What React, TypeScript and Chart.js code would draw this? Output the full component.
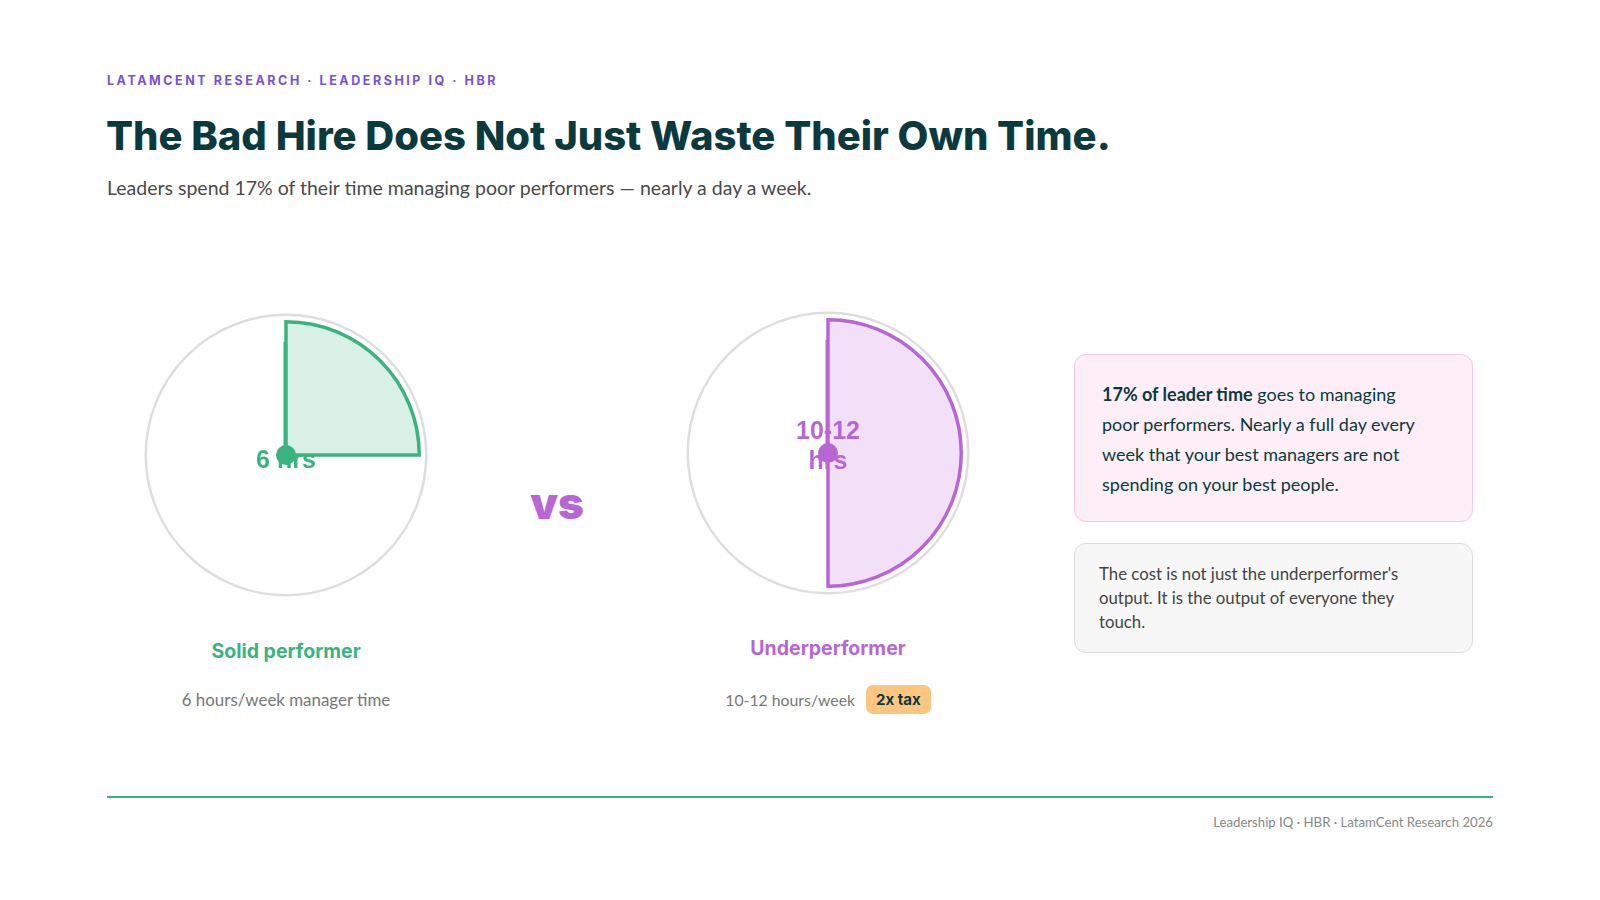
import React, { useEffect, useRef } from "react";
import { Chart, registerables } from "chart.js";

Chart.register(...registerables);

// ---- data ----
const dialHours = 24; // one full turn of the dial
const performerLabels = ["Solid performer", "Underperformer"];
const managerHours = [6, 12];
const centerLabels = [["6 hrs"], ["10-12", "hrs"]];
const detailLabels = ["6 hours/week manager time", "10-12 hours/week"];
const badgeLabels = ["", "2x tax"];
const seriesColors = ["#3bb37f", "#b866d6"];
const seriesFills = ["rgba(59,179,127,0.2)", "rgba(184,102,214,0.2)"];

const dialPlugin = {
  id: "dial",
  beforeDatasetsDraw(chart: any, _a: any, opts: any) {
    const arc: any = chart.getDatasetMeta(0).data[0];
    if (!arc) return;
    const ctx = chart.ctx;
    ctx.save();
    ctx.beginPath();
    ctx.arc(arc.x, arc.y, arc.outerRadius + 7, 0, Math.PI * 2);
    ctx.strokeStyle = "#dedede";
    ctx.lineWidth = 2.5;
    ctx.stroke();
    ctx.restore();
  },
  afterDatasetsDraw(chart: any, _a: any, opts: any) {
    const arc: any = chart.getDatasetMeta(0).data[0];
    if (!arc) return;
    const ctx = chart.ctx;
    const { x, y, outerRadius } = arc;
    ctx.save();
    // hand
    ctx.beginPath();
    ctx.moveTo(x - 1, y);
    ctx.lineTo(x - 1, y - outerRadius * 0.85);
    ctx.strokeStyle = opts.color;
    ctx.lineWidth = 3;
    ctx.stroke();
    // text
    const lines: string[] = opts.lines || [];
    ctx.fillStyle = opts.color;
    ctx.font = "bold 25px 'Liberation Sans', Arial, sans-serif";
    ctx.textAlign = "center";
    ctx.textBaseline = "middle";
    const lh = 30;
    const startY = y + opts.textOffset - ((lines.length - 1) * lh) / 2;
    lines.forEach((l, i) => ctx.fillText(l, x, startY + i * lh));
    // pivot dot
    ctx.beginPath();
    ctx.arc(x, y, 10, 0, Math.PI * 2);
    ctx.fillStyle = opts.color;
    ctx.fill();
    ctx.restore();
  },
};

function Dial({ index, left, top }: { index: number; left: number; top: number }) {
  const ref = useRef<HTMLCanvasElement | null>(null);
  useEffect(() => {
    if (!ref.current) return;
    const hours = managerHours[index];
    const chart = new Chart(ref.current, {
      type: "pie",
      data: {
        labels: ["Manager time", "Rest of dial"],
        datasets: [
          {
            data: [hours, dialHours - hours],
            backgroundColor: [seriesFills[index], "rgba(0,0,0,0)"],
            borderColor: [seriesColors[index], "rgba(0,0,0,0)"],
            borderWidth: [3.5, 0],
            borderJoinStyle: "miter",
          } as any,
        ],
      },
      options: {
        animation: false,
        responsive: false,
        events: [],
        layout: { padding: 15 },
        plugins: {
          legend: { display: false },
          tooltip: { enabled: false },
          dial: {
            color: seriesColors[index],
            lines: centerLabels[index],
            textOffset: index === 0 ? 6 : -6,
          },
        } as any,
      },
      plugins: [dialPlugin as any],
    });
    return () => chart.destroy();
  }, [index]);
  return (
    <canvas
      ref={ref}
      width={300}
      height={300}
      style={{ position: "absolute", left, top, width: 300, height: 300 }}
    />
  );
}

const body = "Lato, 'Open Sans', sans-serif";
const head = "Inter, 'Open Sans', sans-serif";
const dark = "#0b3a3e";

export default function App() {
  const abs = (s: React.CSSProperties): React.CSSProperties => ({ position: "absolute", margin: 0, whiteSpace: "nowrap", ...s });
  return (
    <div style={{ position: "absolute", left: 0, top: 0, width: 1600, height: 900, background: "#fff", overflow: "hidden" }}>
      <div style={abs({ left: 107, top: 73, fontFamily: head, fontWeight: 700, fontSize: 12.5, lineHeight: "16px", letterSpacing: 2.55, color: "#7a4fe0" })}>
        LATAMCENT RESEARCH · LEADERSHIP IQ · HBR
      </div>
      <div style={abs({ left: 106, top: 112, fontFamily: head, fontWeight: 800, fontSize: 40, lineHeight: "48px", letterSpacing: 0, color: dark })}>
        The Bad Hire Does Not Just Waste Their Own Time.
      </div>
      <div style={abs({ left: 107, top: 176, fontFamily: body, fontSize: 19.5, lineHeight: "24px", color: "#4a4a4a" })}>
        Leaders spend 17% of their time managing poor performers — nearly a day a week.
      </div>

      <Dial index={0} left={136} top={305} />
      <Dial index={1} left={678} top={303} />

      <div style={abs({ left: 457, width: 200, top: 476, textAlign: "center", fontFamily: head, fontWeight: 900, fontSize: 44, lineHeight: "54px", color: seriesColors[1] })}>
        vs
      </div>

      <div style={abs({ left: 136, width: 300, top: 639, textAlign: "center", fontFamily: head, fontWeight: 700, fontSize: 19.5, lineHeight: "24px", color: seriesColors[0] })}>
        {performerLabels[0]}
      </div>
      <div style={abs({ left: 136, width: 300, top: 688, textAlign: "center", fontFamily: body, fontSize: 16.9, lineHeight: "24px", color: "#777" })}>
        {detailLabels[0]}
      </div>

      <div style={abs({ left: 678, width: 300, top: 636, textAlign: "center", fontFamily: head, fontWeight: 700, fontSize: 19.5, lineHeight: "24px", color: seriesColors[1] })}>
        {performerLabels[1]}
      </div>
      <div style={abs({ left: 628, width: 400, top: 685, height: 29, display: "flex", justifyContent: "center", alignItems: "center", gap: 11 })}>
        <span style={{ fontFamily: body, fontSize: 15.8, color: "#777" }}>{detailLabels[1]}</span>
        <span style={{ background: "#fdc680", borderRadius: 7, padding: "0 10px", height: 29, lineHeight: "29px", fontFamily: head, fontWeight: 700, fontSize: 15, color: dark }}>
          {badgeLabels[1]}
        </span>
      </div>

      <div style={abs({ left: 1074, top: 354, width: 399, boxSizing: "border-box", background: "#fdeef7", border: "1px solid #f5c6e6", borderRadius: 12, padding: "24px 27px 22px", fontFamily: body, fontSize: 18, lineHeight: "30px", color: dark })}>
        <b>17% of leader time</b> goes to managing
        <br />
        poor performers. Nearly a full day every
        <br />
        week that your best managers are not
        <br />
        spending on your best people.
      </div>
      <div style={abs({ left: 1074, top: 543, width: 399, boxSizing: "border-box", background: "#f7f7f7", border: "1px solid #dcdcdc", borderRadius: 12, padding: "18px 24px", fontFamily: body, fontSize: 16.8, lineHeight: "24px", color: "#444" })}>
        The cost is not just the underperformer's
        <br />
        output. It is the output of everyone they
        <br />
        touch.
      </div>

      <div style={abs({ left: 107, top: 796, width: 1386, height: 2, background: "#3bb37f" })} />
      <div style={abs({ right: 107, top: 813, fontFamily: body, fontSize: 13.2, lineHeight: "18px", color: "#888" })}>
        Leadership IQ · HBR · LatamCent Research 2026
      </div>
    </div>
  );
}
